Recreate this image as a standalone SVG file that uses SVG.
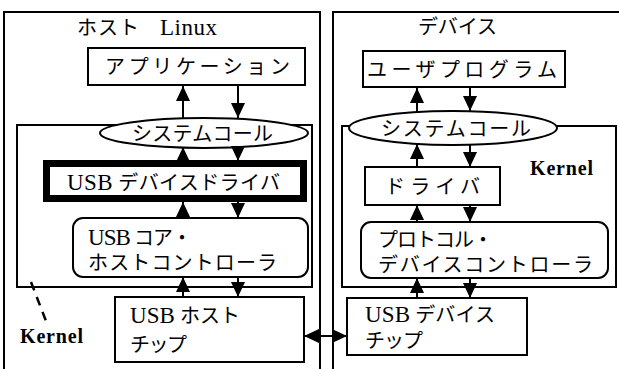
<svg xmlns="http://www.w3.org/2000/svg" width="619" height="369" viewBox="0 0 619 369">
<defs>
<style>
.ln{fill:none;stroke:#000;stroke-width:2}
.bx{fill:#fff;stroke:#000;stroke-width:2}
.t{font-family:"Liberation Serif","Noto Sans CJK JP",serif;font-size:20px;fill:#000}
.l{font-family:"Liberation Serif",serif;font-size:23px}
.k{font-family:"Liberation Serif",serif;font-size:20px;font-weight:bold;fill:#000}
.ar{stroke:#000;stroke-width:2;fill:none;marker-end:url(#ah)}
</style>
<marker id="ah" markerUnits="userSpaceOnUse" markerWidth="15" markerHeight="14" viewBox="0 0 15 14" refX="15" refY="7" orient="auto-start-reverse">
<path d="M0,0 L15,7 L0,14 z" fill="#000"/>
</marker>
</defs>
<rect width="619" height="369" fill="#fff"/>

<g id="host-panel">
<path class="ln" d="M4,369 V12 H320 V369"/>
<text class="t" x="77" y="35" textLength="62" lengthAdjust="spacing">ホスト</text>
<text class="t l" x="160" y="35" textLength="57" lengthAdjust="spacing">Linux</text>
</g>
<g id="device-panel">
<path class="ln" d="M333,369 V12 H619"/>
<text class="t" x="418" y="34" textLength="79" lengthAdjust="spacing">デバイス</text>
</g>

<g id="host-kernel">
<rect class="ln" x="17" y="125" width="295" height="162"/>
<path d="M31,282 L46,321" fill="none" stroke="#000" stroke-width="2.5" stroke-dasharray="9,7"/>
<text class="k" x="20" y="343" textLength="63" lengthAdjust="spacing">Kernel</text>
</g>
<g id="device-kernel">
<rect class="ln" x="342" y="126" width="274" height="161"/>
<text class="k" x="530" y="175" textLength="63" lengthAdjust="spacing">Kernel</text>
</g>

<g id="app">
<rect class="bx" x="88" y="48" width="217" height="37"/>
<text class="t" x="105" y="74" textLength="185" lengthAdjust="spacing">アプリケーション</text>
</g>
<g id="host-syscall">
<ellipse class="bx" cx="204" cy="133" rx="104" ry="15"/>
<text class="t" x="132" y="141" textLength="141" lengthAdjust="spacing">システムコール</text>
</g>
<g id="usb-device-driver">
<rect x="46.5" y="163.5" width="257" height="35" fill="#fff" stroke="#000" stroke-width="7"/>
<text class="t" x="67" y="190" textLength="213" lengthAdjust="spacing"><tspan class="l">USB</tspan> デバイスドライバ</text>
</g>
<g id="usb-core">
<rect class="bx" x="73" y="218" width="235" height="59" rx="10"/>
<text class="t" x="88" y="245" textLength="104" lengthAdjust="spacing"><tspan class="l">USB</tspan> コア・</text>
<text class="t" x="88" y="270" textLength="189" lengthAdjust="spacing">ホストコントローラ</text>
</g>
<g id="usb-host-chip">
<rect class="bx" x="115" y="297" width="189" height="65"/>
<text class="t" x="130" y="323" textLength="110" lengthAdjust="spacing"><tspan class="l">USB</tspan> ホスト</text>
<text class="t" x="130" y="352" textLength="57" lengthAdjust="spacing">チップ</text>
</g>

<g id="user-program">
<rect class="bx" x="363" y="51" width="202" height="36"/>
<text class="t" x="367" y="77" textLength="190" lengthAdjust="spacing">ユーザプログラム</text>
</g>
<g id="device-syscall">
<ellipse class="bx" cx="453" cy="128" rx="104" ry="17"/>
<text class="t" x="381" y="136" textLength="150" lengthAdjust="spacing">システムコール</text>
</g>
<g id="driver">
<rect class="bx" x="365" y="167" width="135" height="38"/>
<text class="t" x="385" y="194" textLength="95" lengthAdjust="spacing">ドライバ</text>
</g>
<g id="protocol-controller">
<rect class="bx" x="361" y="222" width="247" height="56" rx="10"/>
<text class="t" x="378" y="247" textLength="115" lengthAdjust="spacing">プロトコル・</text>
<text class="t" x="378" y="272" textLength="215" lengthAdjust="spacing">デバイスコントローラ</text>
</g>
<g id="usb-device-chip">
<rect class="bx" x="347" y="298" width="180" height="57"/>
<text class="t" x="365" y="322" textLength="130" lengthAdjust="spacing"><tspan class="l">USB</tspan> デバイス</text>
<text class="t" x="365" y="348" textLength="58" lengthAdjust="spacing">チップ</text>
</g>

<g id="connectors">
<line class="ar" x1="183" y1="118" x2="183" y2="86"/>
<line class="ar" x1="238" y1="86" x2="238" y2="118"/>
<line class="ar" x1="183" y1="160" x2="183" y2="147"/>
<line class="ar" x1="238" y1="147" x2="238" y2="161"/>
<line class="ar" x1="183" y1="218" x2="183" y2="202"/>
<line class="ar" x1="238" y1="202" x2="238" y2="218"/>
<line class="ar" x1="183" y1="297" x2="183" y2="277"/>
<line class="ar" x1="238" y1="277" x2="238" y2="297"/>

<line class="ar" x1="417" y1="112" x2="417" y2="88"/>
<line class="ar" x1="470" y1="88" x2="470" y2="111"/>
<line class="ar" x1="417" y1="167" x2="417" y2="144"/>
<line class="ar" x1="470" y1="145" x2="470" y2="167"/>
<line class="ar" x1="417" y1="222" x2="417" y2="205"/>
<line class="ar" x1="470" y1="205" x2="470" y2="222"/>
<line class="ar" x1="417" y1="298" x2="417" y2="278"/>
<line class="ar" x1="470" y1="278" x2="470" y2="298"/>

<line x1="304" y1="336" x2="347" y2="336" stroke="#000" stroke-width="2" marker-start="url(#ah)" marker-end="url(#ah)"/>
</g>
</svg>
